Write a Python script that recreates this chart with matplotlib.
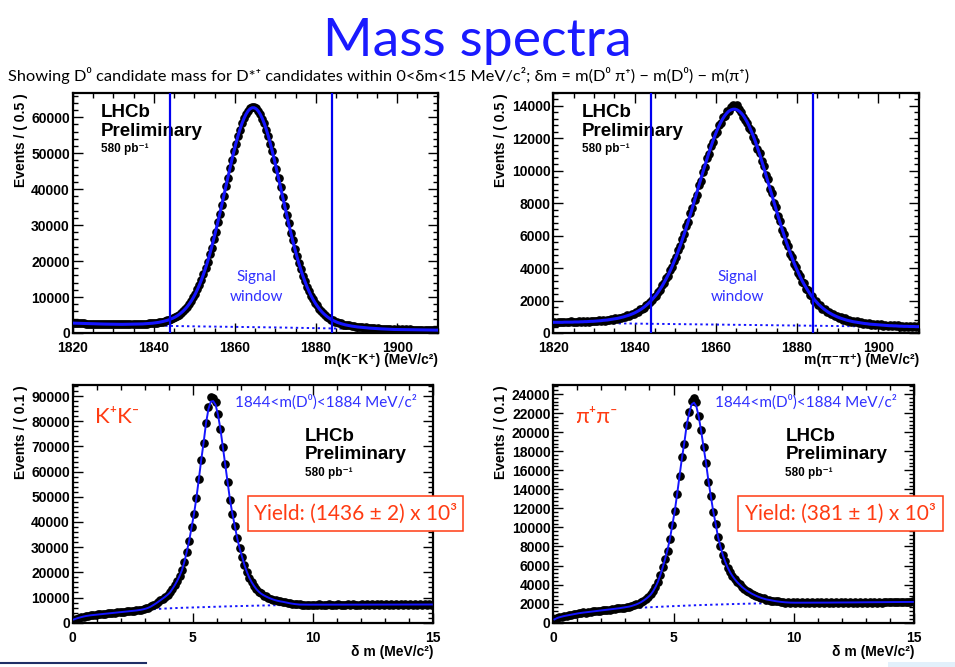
import numpy as np
import matplotlib
matplotlib.use("Agg")
import matplotlib.pyplot as plt
from matplotlib.ticker import MultipleLocator
from matplotlib.patches import Rectangle
from matplotlib.lines import Line2D

# ---------------- data ----------------
mass_lo, mass_hi, mass_step = 1820.0, 1910.0, 0.5
dm_lo, dm_hi, dm_step = 0.0, 15.0, 0.1
signal_window = [1844, 1884]

kk_m_fit = [2740, 2730, 2710, 2690, 2670, 2650, 2630, 2620, 2600, 2580, 2560, 2550, 2530, 2510, 2500, 2480, 2470, 2460, 2450, 2430,
            2420, 2420, 2420, 2420, 2410, 2420, 2410, 2420, 2420, 2440, 2450, 2470, 2480, 2500, 2520, 2560, 2590, 2630, 2670, 2730,
            2800, 2880, 2970, 3070, 3200, 3340, 3500, 3680, 3900, 4150, 4440, 4780, 5160, 5610, 6110, 6690, 7350, 8090, 8930, 9860,
            10910, 12080, 13370, 14780, 16330, 18000, 19810, 21740, 23800, 25980, 28260, 30630, 33070, 35590, 38130, 40690, 43230, 45740, 48170, 50500,
            52710, 54750, 56620, 58270, 59680, 60830, 61720, 62310, 62600, 62600, 62290, 61680, 60790, 59620, 58190, 56530, 54650, 52590, 50360, 48020,
            45560, 43040, 40480, 37900, 35340, 32810, 30350, 27960, 25660, 23470, 21390, 19440, 17620, 15930, 14360, 12930, 11630, 10440, 9370, 8420,
            7560, 6800, 6120, 5520, 5000, 4530, 4130, 3770, 3460, 3190, 2950, 2750, 2570, 2410, 2260, 2140, 2030, 1930, 1840, 1760,
            1680, 1620, 1560, 1490, 1440, 1400, 1350, 1310, 1270, 1230, 1200, 1160, 1140, 1110, 1080, 1060, 1030, 1010, 980, 970,
            960, 940, 930, 920, 910, 900, 900, 880, 880, 870, 870, 850, 850, 840, 840, 830, 830, 810, 810, 800]
kk_m_data = [2800, 2760, 2700, 2720, 2650, 2680, 2610, 2640, 2570, 2600, 2540, 2580, 2510, 2540, 2480, 2500, 2450, 2490, 2430, 2450,
             2400, 2440, 2400, 2430, 2390, 2440, 2400, 2430, 2410, 2460, 2440, 2490, 2470, 2520, 2510, 2580, 2570, 2660, 2650, 2760,
             2780, 2910, 2950, 3100, 3180, 3380, 3480, 3720, 3880, 4190, 4420, 4820, 5140, 5650, 6090, 6740, 7320, 8150, 8900, 9920,
             10870, 12150, 13330, 14850, 16280, 18080, 19760, 21830, 23740, 26080, 28190, 30740, 32990, 35700, 38050, 40800, 43150, 45860, 48100, 50610,
             52640, 54880, 56550, 58400, 59620, 60960, 61680, 62460, 62750, 62800, 62420, 61660, 60900, 59580, 58300, 56480, 54750, 52540, 50450, 47970,
             45650, 42990, 40570, 37850, 35430, 32760, 30440, 27910, 25750, 23420, 21480, 19390, 17710, 15880, 14450, 12880, 11720, 10390, 9460, 8370,
             7650, 6750, 6210, 5470, 5090, 4480, 4220, 3720, 3550, 3140, 3040, 2700, 2660, 2360, 2350, 2090, 2120, 1880, 1930, 1710,
             1770, 1570, 1650, 1440, 1530, 1350, 1440, 1260, 1360, 1180, 1290, 1110, 1230, 1060, 1170, 1010, 1120, 960, 1070, 920,
             1050, 890, 1020, 870, 1000, 850, 990, 830, 970, 820, 960, 800, 940, 790, 930, 780, 920, 760, 900, 850]
kk_m_bkg_x = [1820, 1830, 1840, 1850, 1860, 1870, 1880, 1890, 1900, 1910]
kk_m_bkg = [2750, 2350, 2050, 1850, 1700, 1550, 1350, 1150, 900, 800]

pp_m_fit = [660, 660, 660, 660, 660, 670, 670, 670, 670, 670, 680, 680, 680, 690, 690, 700, 700, 710, 720, 720,
            730, 740, 750, 760, 780, 790, 800, 820, 840, 860, 880, 900, 930, 960, 990, 1030, 1070, 1110, 1160, 1210,
            1270, 1340, 1410, 1490, 1580, 1680, 1790, 1910, 2040, 2180, 2330, 2500, 2690, 2880, 3100, 3330, 3570, 3830, 4110, 4410,
            4720, 5050, 5390, 5750, 6130, 6520, 6910, 7320, 7740, 8160, 8590, 9020, 9450, 9870, 10280, 10690, 11080, 11460, 11820, 12160,
            12470, 12750, 13010, 13230, 13420, 13570, 13690, 13760, 13800, 13800, 13760, 13680, 13560, 13410, 13210, 12990, 12730, 12440, 12130, 11790,
            11430, 11050, 10650, 10240, 9820, 9400, 8970, 8540, 8110, 7680, 7260, 6850, 6450, 6060, 5680, 5320, 4970, 4640, 4320, 4020,
            3740, 3470, 3220, 2990, 2780, 2580, 2390, 2220, 2060, 1920, 1780, 1660, 1550, 1450, 1360, 1270, 1200, 1130, 1070, 1010,
            960, 910, 870, 830, 790, 760, 730, 700, 680, 660, 640, 620, 600, 580, 570, 550, 540, 530, 520, 510,
            500, 490, 480, 470, 460, 450, 450, 440, 440, 430, 420, 420, 410, 410, 410, 400, 400, 400, 390, 390]
pp_m_data = [700, 640, 690, 650, 700, 660, 690, 650, 710, 660, 700, 680, 720, 670, 710, 690, 730, 700, 740, 710,
             760, 730, 780, 750, 800, 770, 830, 800, 860, 830, 900, 880, 950, 920, 1010, 1000, 1100, 1060, 1200, 1190,
             1300, 1320, 1450, 1470, 1560, 1700, 1760, 1940, 2010, 2230, 2300, 2540, 2660, 2930, 3060, 3380, 3530, 3890, 4060, 4470,
             4680, 5110, 5340, 5810, 6080, 6590, 6850, 7390, 7690, 8230, 8530, 9100, 9400, 9950, 10220, 10770, 11020, 11550, 11780, 12250,
             12420, 12850, 12960, 13330, 13380, 13680, 13700, 13950, 14050, 14000, 14080, 13820, 13650, 13350, 13120, 12930, 12640, 12500, 12060, 11860,
             11350, 11120, 10580, 10310, 9750, 9470, 8900, 8610, 8040, 7750, 7190, 6920, 6380, 6130, 5610, 5390, 4900, 4710, 4250, 4090,
             3680, 3540, 3160, 3060, 2720, 2650, 2330, 2290, 2000, 1980, 1730, 1710, 1500, 1500, 1310, 1320, 1150, 1180, 1030, 1060,
             920, 960, 830, 910, 760, 820, 700, 760, 650, 710, 610, 670, 570, 630, 540, 600, 510, 570, 490, 550,
             470, 530, 450, 510, 430, 490, 420, 470, 410, 470, 400, 450, 390, 440, 380, 430, 380, 430, 370, 430]
pp_m_bkg_x = [1820, 1830, 1840, 1850, 1860, 1870, 1880, 1890, 1900, 1910]
pp_m_bkg = [640, 610, 580, 550, 520, 490, 460, 430, 400, 370]

kk_dm_fit = [1300, 1650, 1950, 2200, 2450, 2650, 2800, 2950, 3050, 3150,
             3250, 3350, 3450, 3550, 3650, 3750, 3850, 3950, 4050, 4150,
             4250, 4350, 4450, 4550, 4650, 4750, 4850, 5000, 5150, 5350,
             5600, 5950, 6400, 6950, 7550, 8200, 8900, 9600, 10300, 11100,
             12000, 13400, 14900, 16600, 18600, 20900, 24200, 28200, 32600, 37900,
             43200, 49600, 56900, 64600, 71500, 79200, 84800, 87800, 88000, 86500,
             82500, 76900, 69900, 63000, 55700, 48700, 43200, 38400, 33500, 29500,
             26200, 22900, 20200, 17900, 16100, 14600, 13300, 12300, 11500, 10900,
             10400, 9950, 9550, 9200, 8900, 8650, 8450, 8300, 8100, 7900,
             7700, 7550, 7400, 7300, 7200, 7180, 7170, 7160, 7160, 7160,
             7160, 7160, 7160, 7170, 7170, 7170, 7170, 7170, 7170, 7180,
             7180, 7180, 7180, 7180, 7180, 7180, 7190, 7190, 7190, 7190,
             7190, 7190, 7190, 7190, 7200, 7200, 7200, 7200, 7200, 7200,
             7200, 7200, 7200, 7200, 7210, 7210, 7210, 7210, 7210, 7210,
             7210, 7210, 7210, 7220, 7220, 7220, 7220, 7230, 7230, 7230]
kk_dm_data = [1000, 1500, 1900, 2150, 2450, 2600, 2850, 2900, 3100, 3150,
              3300, 3300, 3500, 3500, 3700, 3700, 3900, 3900, 4100, 4100,
              4300, 4300, 4500, 4500, 4700, 4700, 4900, 4950, 5200, 5300,
              5650, 5900, 6450, 6900, 7600, 8150, 8950, 9550, 10400, 11000,
              12100, 13300, 15000, 16500, 18700, 20900, 24200, 28200, 32600, 37900,
              43200, 49600, 56900, 64600, 71500, 79200, 85500, 89500, 89300, 87800,
              82800, 76900, 69900, 63000, 55700, 48700, 43200, 38400, 33500, 29500,
              26200, 22900, 20300, 17800, 16200, 14500, 13400, 12200, 11600, 10800,
              10500, 9900, 9600, 9150, 8950, 8600, 8500, 8250, 8150, 7850,
              7750, 7500, 7450, 7250, 7250, 7130, 7220, 7110, 7210, 7110,
              7220, 7100, 7230, 7110, 7210, 7120, 7230, 7110, 7220, 7120,
              7240, 7110, 7220, 7130, 7230, 7110, 7240, 7120, 7220, 7130,
              7230, 7120, 7250, 7130, 7230, 7140, 7240, 7120, 7250, 7140,
              7240, 7130, 7260, 7140, 7250, 7150, 7260, 7140, 7270, 7150,
              7260, 7150, 7270, 7160, 7280, 7150, 7280, 7160, 7300, 7180]
kk_dm_bkg = [1100, 2300, 3050, 3600, 4100, 4650, 5150, 5450, 5700, 5900, 6050, 6200, 6350, 6500, 6620, 6740,
             6850, 6950, 7020, 7070, 7110, 7140, 7160, 7170, 7180, 7190, 7200, 7200, 7210, 7210, 7220]

pp_dm_fit = [350, 480, 570, 640, 700, 750, 800, 850, 900, 950,
             990, 1030, 1060, 1090, 1120, 1150, 1180, 1210, 1240, 1270,
             1300, 1330, 1360, 1390, 1420, 1450, 1480, 1520, 1560, 1600,
             1640, 1690, 1750, 1830, 1920, 2030, 2160, 2320, 2500, 2710,
             2950, 3300, 3750, 4300, 5000, 5800, 6700, 7650, 8800, 10250,
             11700, 13500, 15400, 17300, 18900, 20800, 22000, 22900, 23100, 22700,
             21600, 20100, 18400, 16800, 14900, 13300, 11700, 10400, 9000, 8000,
             7100, 6400, 5800, 5300, 4900, 4550, 4250, 4000, 3750, 3550,
             3350, 3200, 3050, 2920, 2800, 2700, 2600, 2520, 2450, 2400,
             2350, 2300, 2260, 2220, 2190, 2160, 2140, 2120, 2110, 2100,
             2100, 2100, 2100, 2100, 2100, 2100, 2100, 2100, 2105, 2105,
             2110, 2110, 2110, 2110, 2110, 2115, 2115, 2115, 2120, 2120,
             2125, 2125, 2125, 2130, 2130, 2130, 2135, 2135, 2140, 2140,
             2145, 2145, 2150, 2150, 2150, 2155, 2155, 2160, 2160, 2160,
             2165, 2165, 2170, 2170, 2170, 2175, 2175, 2180, 2180, 2180]
pp_dm_data = [300, 450, 560, 620, 720, 730, 820, 830, 920, 930,
              1010, 1010, 1080, 1070, 1140, 1130, 1200, 1190, 1260, 1250,
              1320, 1310, 1380, 1370, 1440, 1430, 1500, 1500, 1590, 1580,
              1670, 1670, 1780, 1810, 1950, 2010, 2190, 2300, 2530, 2690,
              2980, 3280, 3780, 4280, 5030, 5850, 6700, 7550, 8800, 10250,
              11700, 13500, 15400, 17350, 18800, 20800, 22100, 23300, 23600, 23200,
              21700, 20200, 18400, 16800, 14800, 13300, 11650, 10400, 9000, 8000,
              7100, 6430, 5780, 5330, 4870, 4580, 4220, 4030, 3720, 3580,
              3320, 3230, 3020, 2950, 2770, 2730, 2570, 2550, 2420, 2430,
              2320, 2330, 2230, 2250, 2160, 2190, 2110, 2170, 2080, 2130,
              2070, 2140, 2070, 2130, 2080, 2140, 2070, 2140, 2090, 2130,
              2080, 2150, 2080, 2140, 2090, 2150, 2080, 2150, 2100, 2150,
              2090, 2160, 2100, 2160, 2090, 2170, 2110, 2170, 2100, 2180,
              2110, 2180, 2120, 2180, 2110, 2190, 2120, 2190, 2130, 2200,
              2130, 2200, 2130, 2210, 2140, 2210, 2140, 2220, 2150, 2230]
pp_dm_bkg = [350, 700, 950, 1120, 1260, 1380, 1480, 1560, 1620, 1680, 1740, 1790, 1840, 1880, 1920, 1960,
             1990, 2020, 2040, 2060, 2080, 2090, 2100, 2110, 2120, 2130, 2140, 2150, 2160, 2170, 2180]

# ---------------- style ----------------
ROOT = ['Liberation Sans', 'DejaVu Sans']
SLIDE = ['Lato', 'DejaVu Sans']
BLUE = '#1515ff'
RED = '#ff3b12'

W, H = 955, 667
fig = plt.figure(figsize=(W / 100, H / 100), dpi=100)


def fx(px):
    return px / W


def fy(py):
    return 1 - py / H


def make_axes(x0, x1, y0, y1):
    return fig.add_axes([fx(x0), fy(y1), fx(x1) - fx(x0), (y1 - y0) / H])


def style(ax, xlim, ylim, xmaj, xmin_, ymaj, ymin_, xpad):
    ax.set_xlim(*xlim)
    ax.set_ylim(*ylim)
    ax.xaxis.set_major_locator(MultipleLocator(xmaj))
    ax.xaxis.set_minor_locator(MultipleLocator(xmin_))
    ax.yaxis.set_major_locator(MultipleLocator(ymaj))
    ax.yaxis.set_minor_locator(MultipleLocator(ymin_))
    ax.tick_params(which='both', direction='in', top=True, right=True, width=1.0)
    ax.tick_params(which='major', length=7)
    ax.tick_params(which='minor', length=3.5)
    ax.tick_params(axis='y', pad=2)
    ax.tick_params(axis='x', pad=xpad)
    for s in ax.spines.values():
        s.set_linewidth(1.6)
    for lab in ax.get_xticklabels() + ax.get_yticklabels():
        lab.set_fontfamily(ROOT)
        lab.set_fontweight('bold')
        lab.set_fontsize(10)


def draw(ax, x, data, fit, bx, bkg, ms, lw):
    ax.plot(bx, bkg, linestyle=(0, (1.2, 1.6)), color=BLUE, lw=1.4, zorder=2)
    ax.plot(x, data, 'o', color='black', ms=ms, mec='black', zorder=3)
    ax.plot(x, fit, '-', color=BLUE, lw=lw, zorder=4)


mass_x = np.arange(mass_lo + mass_step / 2, mass_hi, mass_step)
dm_x = np.arange(dm_lo + dm_step / 2, dm_hi, dm_step)
dm_bkg_x = np.arange(dm_lo, dm_hi + 0.25, 0.5)

# ---------------- top panels ----------------
top_specs = [
    (72.7, 437.7, kk_m_data, kk_m_fit, kk_m_bkg_x, kk_m_bkg, 66700, 10000, 2000, 'm(K⁻K⁺) (MeV/c²)'),
    (553.3, 919.0, pp_m_data, pp_m_fit, pp_m_bkg_x, pp_m_bkg, 14800, 2000, 400, 'm(π⁻π⁺) (MeV/c²)'),
]
for (x0, x1, dat, fit, bx, bk, ytop, ymaj, ymn, xl) in top_specs:
    ax = make_axes(x0, x1, 93, 333)
    draw(ax, mass_x[:len(dat)], dat, fit, bx, bk, ms=5.2, lw=2.2)
    for w in signal_window:
        ax.axvline(w, color='#0000f0', lw=1.6, zorder=5)
    style(ax, (mass_lo, mass_hi), (0, ytop), 20, 5, ymaj, ymn, 5.5)
    ax.text(0.078, 0.955, 'LHCb', transform=ax.transAxes, ha='left', va='top',
            fontsize=13.5, fontweight='bold', family=ROOT)
    ax.text(0.078, 0.875, 'Preliminary', transform=ax.transAxes, ha='left', va='top',
            fontsize=13.5, fontweight='bold', family=ROOT)
    ax.text(0.078, 0.79, '580 pb⁻¹', transform=ax.transAxes, ha='left', va='top',
            fontsize=8.5, fontweight='bold', family=ROOT)
    ax.text(0.503, 0.215, 'Signal', transform=ax.transAxes, ha='center', va='baseline',
            fontsize=11, color='#3030ff', family=SLIDE)
    ax.text(0.503, 0.135, 'window', transform=ax.transAxes, ha='center', va='baseline',
            fontsize=11, color='#3030ff', family=SLIDE)
    fig.text(fx(x1), fy(353), xl, ha='right', va='top', fontsize=10,
             fontweight='bold', family=ROOT)
    fig.text(fx(x0 - 52), fy(93), 'Events / ( 0.5 )', rotation=90, ha='center', va='top',
             fontsize=10, fontweight='bold', family=ROOT)

# ---------------- bottom panels ----------------
bot_specs = [
    (72.7, 433.0, kk_dm_data, kk_dm_fit, kk_dm_bkg, 94400, 10000, 2000, 'K⁺K⁻',
     'Yield: (1436 ± 2) x 10³', (248.3, 463.3)),
    (553.3, 914.0, pp_dm_data, pp_dm_fit, pp_dm_bkg, 24950, 2000, 400, 'π⁺π⁻',
     'Yield: (381 ± 1) x 10³', (738.3, 942.7)),
]
for (x0, x1, dat, fit, bk, ytop, ymaj, ymn, chan, yld, (bx0, bx1)) in bot_specs:
    ax = make_axes(x0, x1, 385, 622.7)
    draw(ax, dm_x[:len(dat)], dat, fit, dm_bkg_x, bk, ms=5.2, lw=1.4)
    style(ax, (dm_lo, dm_hi), (0, ytop), 5, 1, ymaj, ymn, 6)
    fig.text(fx(x0 + 162), fy(406.5), '1844<m(D⁰)<1884 MeV/c²', ha='left', va='baseline',
             fontsize=11, color='#3030ff', family=SLIDE)
    fig.text(fx(x0 + 22), fy(423), chan, ha='left', va='baseline',
             fontsize=16, color=RED, family=SLIDE)
    fig.text(fx(x0 + 232), fy(428), 'LHCb', ha='left', va='top',
             fontsize=13.5, fontweight='bold', family=ROOT)
    fig.text(fx(x0 + 232), fy(446), 'Preliminary', ha='left', va='top',
             fontsize=13.5, fontweight='bold', family=ROOT)
    fig.text(fx(x0 + 232), fy(467), '580 pb⁻¹', ha='left', va='top',
             fontsize=8.5, fontweight='bold', family=ROOT)
    fig.add_artist(Rectangle((fx(bx0), fy(531)), fx(bx1) - fx(bx0), 35.3 / H,
                             transform=fig.transFigure, fill=True, facecolor='white',
                             edgecolor=RED, lw=1.1, zorder=10))
    fig.text(fx((bx0 + bx1) / 2), fy(513.5), yld, ha='center', va='center',
             fontsize=15, color=RED, family=SLIDE, zorder=11)
    fig.text(fx(x1), fy(645), 'δ m (MeV/c²)', ha='right', va='top', fontsize=10,
             fontweight='bold', family=ROOT)
    fig.text(fx(x0 - 52), fy(385), 'Events / ( 0.1 )', rotation=90, ha='center', va='top',
             fontsize=10, fontweight='bold', family=ROOT)

# ---------------- slide text ----------------
fig.text(0.5, fy(56), 'Mass spectra', ha='center', va='baseline', fontsize=38.5,
         color='#1a1aff', family=SLIDE)
fig.text(fx(8), fy(81), 'Showing D⁰ candidate mass for D*⁺ candidates within 0<δm<15 MeV/c²; '
         'δm = m(D⁰ π⁺) − m(D⁰) − m(π⁺)', ha='left', va='baseline', fontsize=11.8,
         color='black', family=SLIDE)
fig.add_artist(Line2D([0, fx(146)], [fy(663), fy(663)], color='#1f2f66', lw=1.5))
fig.add_artist(Rectangle((fx(888), 0), 1 - fx(888), 5 / H, transform=fig.transFigure,
                         color='#e2f0fb', lw=0))

fig.savefig('out.png', dpi=100)
